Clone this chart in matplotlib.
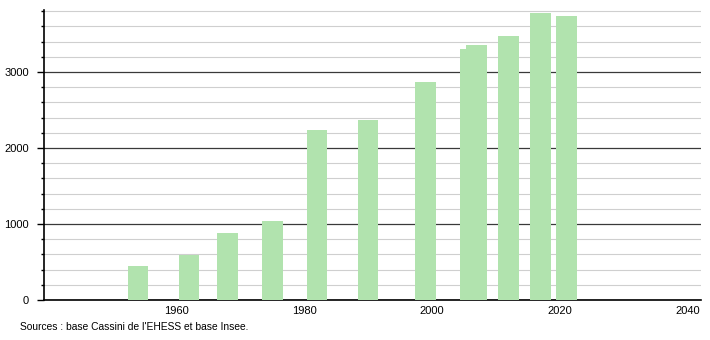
# population bar chart, census years vs inhabitants
import matplotlib.pyplot as plt
from matplotlib.ticker import MultipleLocator

plt.rcParams['font.family'] = ['Liberation Sans', 'DejaVu Sans']

# census years and population counts
years = [1954, 1962, 1968, 1975, 1982, 1990, 1999, 2006, 2007, 2012, 2017, 2021]
population = [447, 588, 886, 1039, 2237, 2368, 2868, 3303, 3355, 3478, 3776, 3741]

source_text = "Sources : base Cassini de l'EHESS et base Insee."

fig = plt.figure(figsize=(7.1, 3.4), dpi=100)
ax = fig.add_axes([44 / 710, 40 / 340, 657 / 710, 290 / 340])

# bars sit on top of the grid
ax.bar(years, population, width=3.25, color='#b1e3ae', zorder=3)

ax.set_xlim(1939.3, 2042.1)
ax.set_ylim(0, 3815)

ax.yaxis.set_major_locator(MultipleLocator(1000))
ax.yaxis.set_minor_locator(MultipleLocator(200))
ax.set_xticks([1960, 1980, 2000, 2020, 2040])

# dark lines every 1000, light ones every 200
ax.grid(which='major', axis='y', color='#3a3a3a', linewidth=0.9, zorder=1)
ax.grid(which='minor', axis='y', color='#cfcfcf', linewidth=0.8, zorder=0)

for side in ['top', 'right']:
    ax.spines[side].set_visible(False)
ax.spines['left'].set_linewidth(1.2)
ax.spines['bottom'].set_linewidth(1.2)

ax.tick_params(axis='y', which='major', length=5, width=1, pad=6, labelsize=8)
ax.tick_params(axis='y', which='minor', length=2, width=1)
ax.tick_params(axis='x', which='both', length=0, pad=4, labelsize=8)

fig.text(20 / 710, 1 - 327 / 340, source_text, fontsize=7.4, va='center', ha='left')

fig.savefig('out.png', dpi=100)
